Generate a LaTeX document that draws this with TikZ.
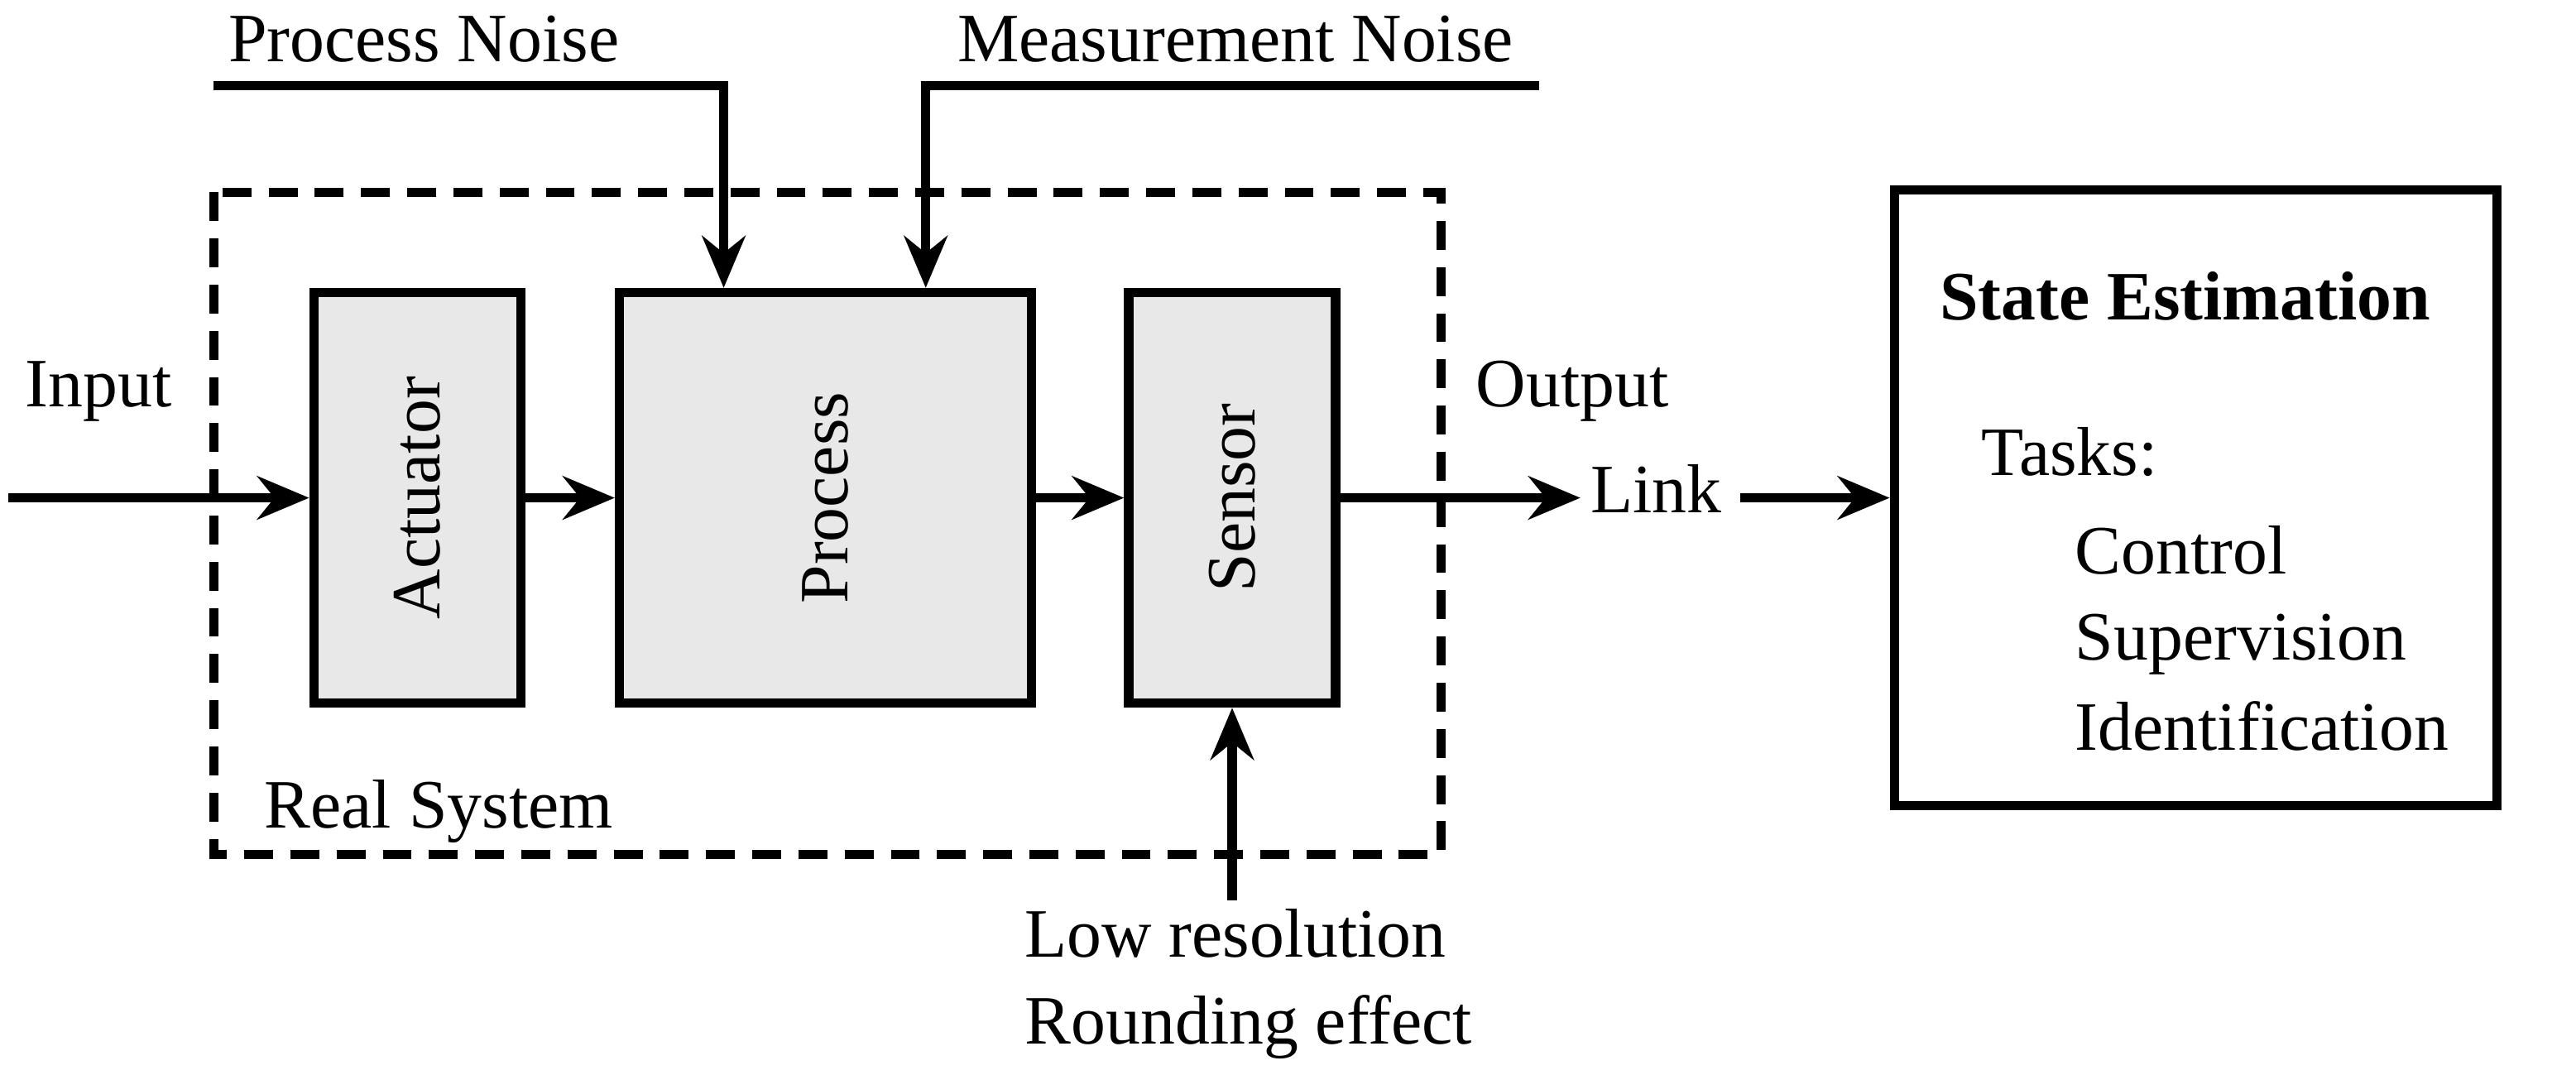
\documentclass[tikz,border=0pt]{standalone}
\usepackage{fontspec}
\setmainfont{Liberation Serif}
\usetikzlibrary{arrows.meta}
\begin{document}
\begin{tikzpicture}[x=0.02cm,y=-0.02cm,
  every node/.style={font=\fontsize{24}{28}\selectfont},
  ln/.style={line width=3.2pt},
  arr/.style={ln,-{Stealth[length=18pt,width=15pt,inset=6pt]}},
  blk/.style={draw,line width=3.2pt,fill=gray!18,inner sep=0pt}]
\useasboundingbox (0,0) rectangle (1568,654);
\draw[line width=3.2pt,dash pattern=on 10pt off 6pt] (130,117) rectangle (877,520);
\node[blk,minimum width=2.52cm,minimum height=5cm] (act) at (254,303) {};
\node[rotate=90] at (act) {Actuator};
\node[blk,minimum width=5.02cm,minimum height=5cm] (proc) at (502.5,303) {};
\node[rotate=90] at (proc) {Process};
\node[blk,minimum width=2.52cm,minimum height=5cm] (sen) at (750,303) {};
\node[rotate=90] at (sen) {Sensor};
\node[draw,line width=3.2pt,minimum width=7.34cm,minimum height=7.5cm] (se) at (1336.5,303) {};
\coordinate (in) at (5,303);
\draw[arr] (in) -- (act.west);
\draw[arr] (act.east) -- (proc.west);
\draw[arr] (proc.east) -- (sen.west);
\node[text height=14pt,text depth=4pt] (link) at (1008,303) {Link};
\draw[arr] (sen.east) -- (link.west);
\draw[arr] ([xshift=0.1cm]link.east) -- (se.west);
\node at (60,238) {Input};
\node at (957,238) {Output};
\coordinate (pn) at (130,52);
\coordinate (mn) at (937,52);
\draw[arr] (pn) -| ([xshift=-1.24cm]proc.north);
\draw[arr] (mn) -| ([xshift=1.22cm]proc.north);
\node at (258,24) {Process Noise};
\node at (752,24) {Measurement Noise};
\coordinate (lr) at (750,548);
\draw[arr] (lr) -- (sen.south);
\node at (752,568) {Low resolution};
\node at (760,625) {Rounding effect};
\node at (267,494) {Real System};
\node[font=\fontsize{24}{28}\selectfont\bfseries] at (1330,180) {State Estimation};
\node[anchor=west] at (1200,275) {Tasks:};
\node[anchor=west] at (1257,335) {Control};
\node[anchor=west] at (1257,392) {Supervision};
\node[anchor=west] at (1257,442) {Identification};
\end{tikzpicture}
\end{document}
